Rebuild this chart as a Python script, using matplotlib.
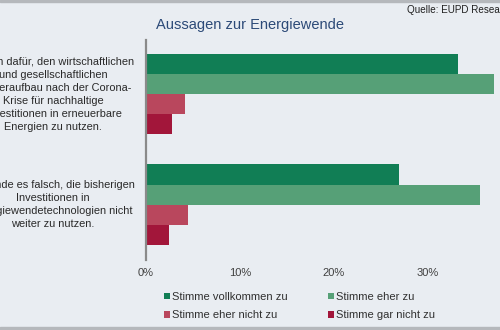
import numpy as np
import matplotlib.pyplot as plt
from matplotlib.patches import Rectangle

plt.rcParams['font.family'] = ['Liberation Sans', 'DejaVu Sans']

# Aussagen (Kategorien) und Antwortanteile in %
aussagen = [
    "Ich bin dafür, den wirtschaftlichen\nund gesellschaftlichen\nWiederaufbau nach der Corona-\nKrise für nachhaltige\nInvestitionen in erneuerbare\nEnergien zu nutzen.",
    "Ich finde es falsch, die bisherigen\nInvestitionen in\nEnergiewendetechnologien nicht\nweiter zu nutzen.",
]
antworten = ["Stimme vollkommen zu", "Stimme eher zu",
             "Stimme eher nicht zu", "Stimme gar nicht zu"]
vollkommen = [33.3, 27.0]
eher_zu = [37.1, 35.6]
eher_nicht = [4.2, 4.5]
gar_nicht = [2.8, 2.5]
x_ticks = [0, 10, 20, 30]

farben = ['#117e55', '#56a077', '#b9475d', '#a2163a']
bg = '#e9edf2'

fig = plt.figure(figsize=(5, 3.3), dpi=100, facecolor=bg)
ax = fig.add_axes([0.292, 0.212, 0.708, 0.667])
ax.set_facecolor(bg)

werte = [vollkommen, eher_zu, eher_nicht, gar_nicht]
pos = np.arange(len(aussagen))
h = 0.182
for i, (serie, farbe, name) in enumerate(zip(werte, farben, antworten)):
    ax.barh(pos + (i - 1.5) * h, serie, height=h, color=farbe, label=name)

ax.set_xlim(0, 37.74)
ax.set_ylim(1.5, -0.49)
ax.set_xticks(x_ticks)
ax.set_xticklabels([f"{t}%" for t in x_ticks], fontsize=8, color='#404040')
ax.tick_params(axis='x', length=0, pad=6)
ax.set_yticks([])
for s in ['top', 'right', 'bottom']:
    ax.spines[s].set_visible(False)
ax.spines['left'].set_color('#8a8a8a')
ax.spines['left'].set_linewidth(1.6)

# Aussagen links neben der Achse, zentriert
for p, txt in zip(pos, aussagen):
    ax.annotate(txt, xy=(0, p), xycoords=('axes fraction', 'data'),
                xytext=(-93, 0), textcoords='offset pixels',
                ha='center', va='center', fontsize=7.9, color='#2a2a2a',
                linespacing=1.38)

fig.text(0.5, 0.924, "Aussagen zur Energiewende", ha='center', va='center',
         fontsize=10.5, color='#2c4a78')
fig.text(0.814, 0.97, "Quelle: EUPD Research", ha='left', va='center',
         fontsize=7.1, color='#202020')

handles, labels = ax.get_legend_handles_labels()
order = [0, 2, 1, 3]
fig.legend([handles[i] for i in order], [labels[i] for i in order],
           ncol=2, loc='center left', bbox_to_anchor=(0.308, 0.072),
           frameon=False, fontsize=8, handlelength=0.55, handleheight=0.55,
           handletextpad=0.2, columnspacing=3.6, labelspacing=0.75,
           labelcolor='#303030')

# graue Randstreifen oben und unten
fig.patches.append(Rectangle((0, 0.993), 1, 0.007, transform=fig.transFigure,
                             color='#b5b8bc', zorder=5))
fig.patches.append(Rectangle((0, 0), 1, 0.01, transform=fig.transFigure,
                             color='#b5b8bc', zorder=5))

fig.savefig('out.png', dpi=100, facecolor=bg)
